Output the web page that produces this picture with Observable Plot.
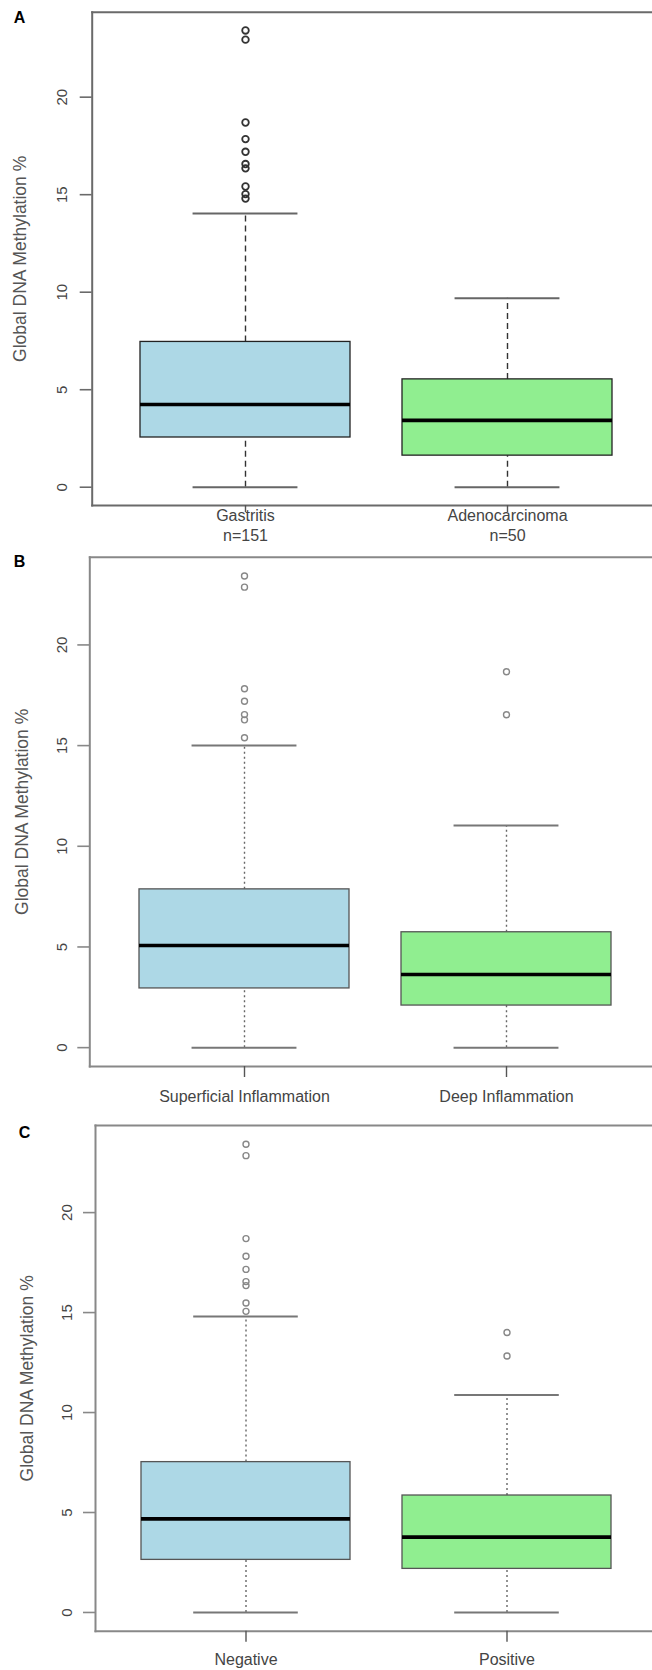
<!DOCTYPE html>
<html>
<head>
<meta charset="utf-8">
<script src="https://cdn.jsdelivr.net/npm/d3@7"></script>
<script src="https://cdn.jsdelivr.net/npm/@observablehq/plot@0.6"></script>
<style>
  html, body { margin: 0; padding: 0; background: #fff; }
  #chart svg { display: block; }
</style>
</head>
<body>
<div id="chart"></div>
<script>
// ---------- data ----------
const yLabel = "Global DNA Methylation %";
const yTicks = [0, 5, 10, 15, 20];
const boxColors = ["lightblue", "lightgreen"];

// Panel A
const catsA = ["Gastritis", "Adenocarcinoma"];
const labelsA = ["Gastritis\nn=151", "Adenocarcinoma\nn=50"];
const lowA = [0, 0];
const q1A = [2.55, 1.62];
const medA = [4.24, 3.43];
const q3A = [7.45, 5.53];
const highA = [14.03, 9.69];
const outA = [[23.42, 22.95, 18.7, 17.85, 17.2, 16.57, 16.35, 15.42, 15.03, 14.8], []];

// Panel B
const catsB = ["Superficial Inflammation", "Deep Inflammation"];
const labelsB = ["Superficial Inflammation", "Deep Inflammation"];
const lowB = [0, 0];
const q1B = [2.94, 2.09];
const medB = [5.07, 3.63];
const q3B = [7.86, 5.73];
const highB = [15.0, 11.03];
const outB = [[23.42, 22.87, 17.82, 17.2, 16.54, 16.28, 15.39], [18.67, 16.53]];

// Panel C
const catsC = ["Negative", "Positive"];
const labelsC = ["Negative", "Positive"];
const lowC = [0, 0];
const q1C = [2.63, 2.18];
const medC = [4.68, 3.77];
const q3C = [7.52, 5.85];
const highC = [14.8, 10.88];
const outC = [[23.42, 22.85, 18.7, 17.82, 17.16, 16.55, 16.35, 15.48, 15.06], [14.0, 12.83]];

// ---------- layout / style per panel ----------
const panels = [
  {letter: "A", cats: catsA, labels: labelsA, low: lowA, q1: q1A, med: medA, q3: q3A, high: highA, out: outA,
   height: 545, marginTop: 11.7, marginBottom: 40, marginLeft: 91.7, xRange: [91.8, 659.4],
   letterX: 19, letterY: 17, ylabX: 20, tickLabX: 61.7,
   xTickSize: 7, xTickPad: -6, lineHeight: 1.25,
   frameColor: "#6a6a6a", boxStroke: "#222", whiskerColor: "#333", whiskerDash: "6,4",
   outColor: "#333", outWidth: 1.8, outR: 3.3, capColor: "#666"},
  {letter: "B", cats: catsB, labels: labelsB, low: lowB, q1: q1B, med: medB, q3: q3B, high: highB, out: outB,
   height: 565, marginTop: 11.7, marginBottom: 44, marginLeft: 89.3, xRange: [90.9, 658.4],
   letterX: 19, letterY: 561.7 - 545, ylabX: 21.7, tickLabX: 61.7,
   xTickSize: 11, xTickPad: 11, lineHeight: 1.2,
   frameColor: "#888", boxStroke: "#555", whiskerColor: "#666", whiskerDash: "2,3",
   outColor: "#888", outWidth: 1.4, outR: 3.0, capColor: "#777"},
  {letter: "C", cats: catsC, labels: labelsC, low: lowC, q1: q1C, med: medC, q3: q3C, high: highC, out: outC,
   height: 560, marginTop: 15, marginBottom: 39.3, marginLeft: 95, xRange: [94.3, 658.1],
   letterX: 24, letterY: 1132.7 - 1110, ylabX: 26.7, tickLabX: 66.7,
   xTickSize: 11, xTickPad: 9.5, lineHeight: 1.2,
   frameColor: "#888", boxStroke: "#555", whiskerColor: "#666", whiskerDash: "2,3",
   outColor: "#888", outWidth: 1.4, outR: 3.0, capColor: "#777"}
];

const font = "'Liberation Sans', Arial, Helvetica, sans-serif";

function makePanel(p) {
  const rows = p.cats.map((c, i) => ({cat: c, lo: p.low[i], q1: p.q1[i], med: p.med[i], q3: p.q3[i], hi: p.high[i], color: boxColors[i]}));
  const outs = p.cats.flatMap((c, i) => p.out[i].map(v => ({cat: c, v})));
  const allVals = rows.flatMap(r => [r.lo, r.hi]).concat(outs.map(o => o.v));
  const [mn, mx] = d3.extent(allVals);
  const pad = (mx - mn) * 0.04;
  const paddingInner = 0.2, paddingOuter = 0.18;
  const step = (p.xRange[1] - p.xRange[0]) / (p.cats.length - paddingInner + 2 * paddingOuter);
  const bw = step * (1 - paddingInner);
  const capInset = bw / 4;

  return Plot.plot({
    width: 652,
    height: p.height,
    marginTop: p.marginTop,
    marginBottom: p.marginBottom,
    marginLeft: p.marginLeft,
    marginRight: 0,
    style: {fontFamily: font, background: "#fff", overflow: "visible"},
    x: {type: "band", domain: p.cats, range: p.xRange, paddingInner, paddingOuter, axis: null, label: null},
    y: {domain: [mn - pad, mx + pad], axis: null, label: null},
    color: {type: "identity"},
    marks: [
      // whiskers
      Plot.ruleX(rows, {x: "cat", y1: "q3", y2: "hi", stroke: p.whiskerColor, strokeWidth: 1.4, strokeDasharray: p.whiskerDash}),
      Plot.ruleX(rows, {x: "cat", y1: "lo", y2: "q1", stroke: p.whiskerColor, strokeWidth: 1.4, strokeDasharray: p.whiskerDash}),
      // whisker caps
      Plot.tickY(rows, {x: "cat", y: "hi", stroke: p.capColor, strokeWidth: 2, insetLeft: capInset, insetRight: capInset}),
      Plot.tickY(rows, {x: "cat", y: "lo", stroke: p.capColor, strokeWidth: 2, insetLeft: capInset, insetRight: capInset}),
      // boxes
      Plot.barY(rows, {x: "cat", y1: "q1", y2: "q3", fill: "color", stroke: p.boxStroke, strokeWidth: 1.3}),
      // medians
      Plot.tickY(rows, {x: "cat", y: "med", stroke: "#000", strokeWidth: 3.6}),
      // outliers
      Plot.dot(outs, {x: "cat", y: "v", r: p.outR, stroke: p.outColor, strokeWidth: p.outWidth, fill: "none"}),
      // frame (left, top, bottom; right side lies beyond the picture)
      Plot.frame({anchor: "left", stroke: p.frameColor, strokeWidth: 2}),
      Plot.frame({anchor: "top", stroke: p.frameColor, strokeWidth: 2}),
      Plot.frame({anchor: "bottom", stroke: p.frameColor, strokeWidth: 2}),
      // y axis ticks
      Plot.axisY({ticks: yTicks, tickSize: 12, tickFormat: () => "", stroke: p.frameColor, strokeWidth: 1.6, label: null}),
      // y tick labels (rotated)
      Plot.text(yTicks, {y: d => d, text: d => String(d), frameAnchor: "left", dx: p.tickLabX - p.marginLeft,
        rotate: -90, textAnchor: "middle", lineAnchor: "middle", fontSize: 15, fill: "#444"}),
      // x axis
      Plot.axisX({tickSize: p.xTickSize, tickPadding: p.xTickPad, tickFormat: (d, i) => p.labels[p.cats.indexOf(d)],
        stroke: "#555", strokeWidth: 1.4, fill: "#444", fontSize: 16, lineHeight: p.lineHeight, label: null}),
      // y label
      Plot.text([yLabel], {text: d => d, frameAnchor: "left", dx: p.ylabX - p.marginLeft, rotate: -90,
        textAnchor: "middle", lineAnchor: "middle", fontSize: 17.5, fill: "#555"}),
      // panel letter
      Plot.text([p.letter], {text: d => d, frameAnchor: "top-left", dx: p.letterX - p.marginLeft, dy: p.letterY - p.marginTop,
        textAnchor: "middle", lineAnchor: "middle", fontSize: 16, fontWeight: "bold", fill: "#000"})
    ]
  });
}

const chart = document.getElementById("chart");
panels.forEach(p => chart.appendChild(makePanel(p)));
</script>
</body>
</html>
